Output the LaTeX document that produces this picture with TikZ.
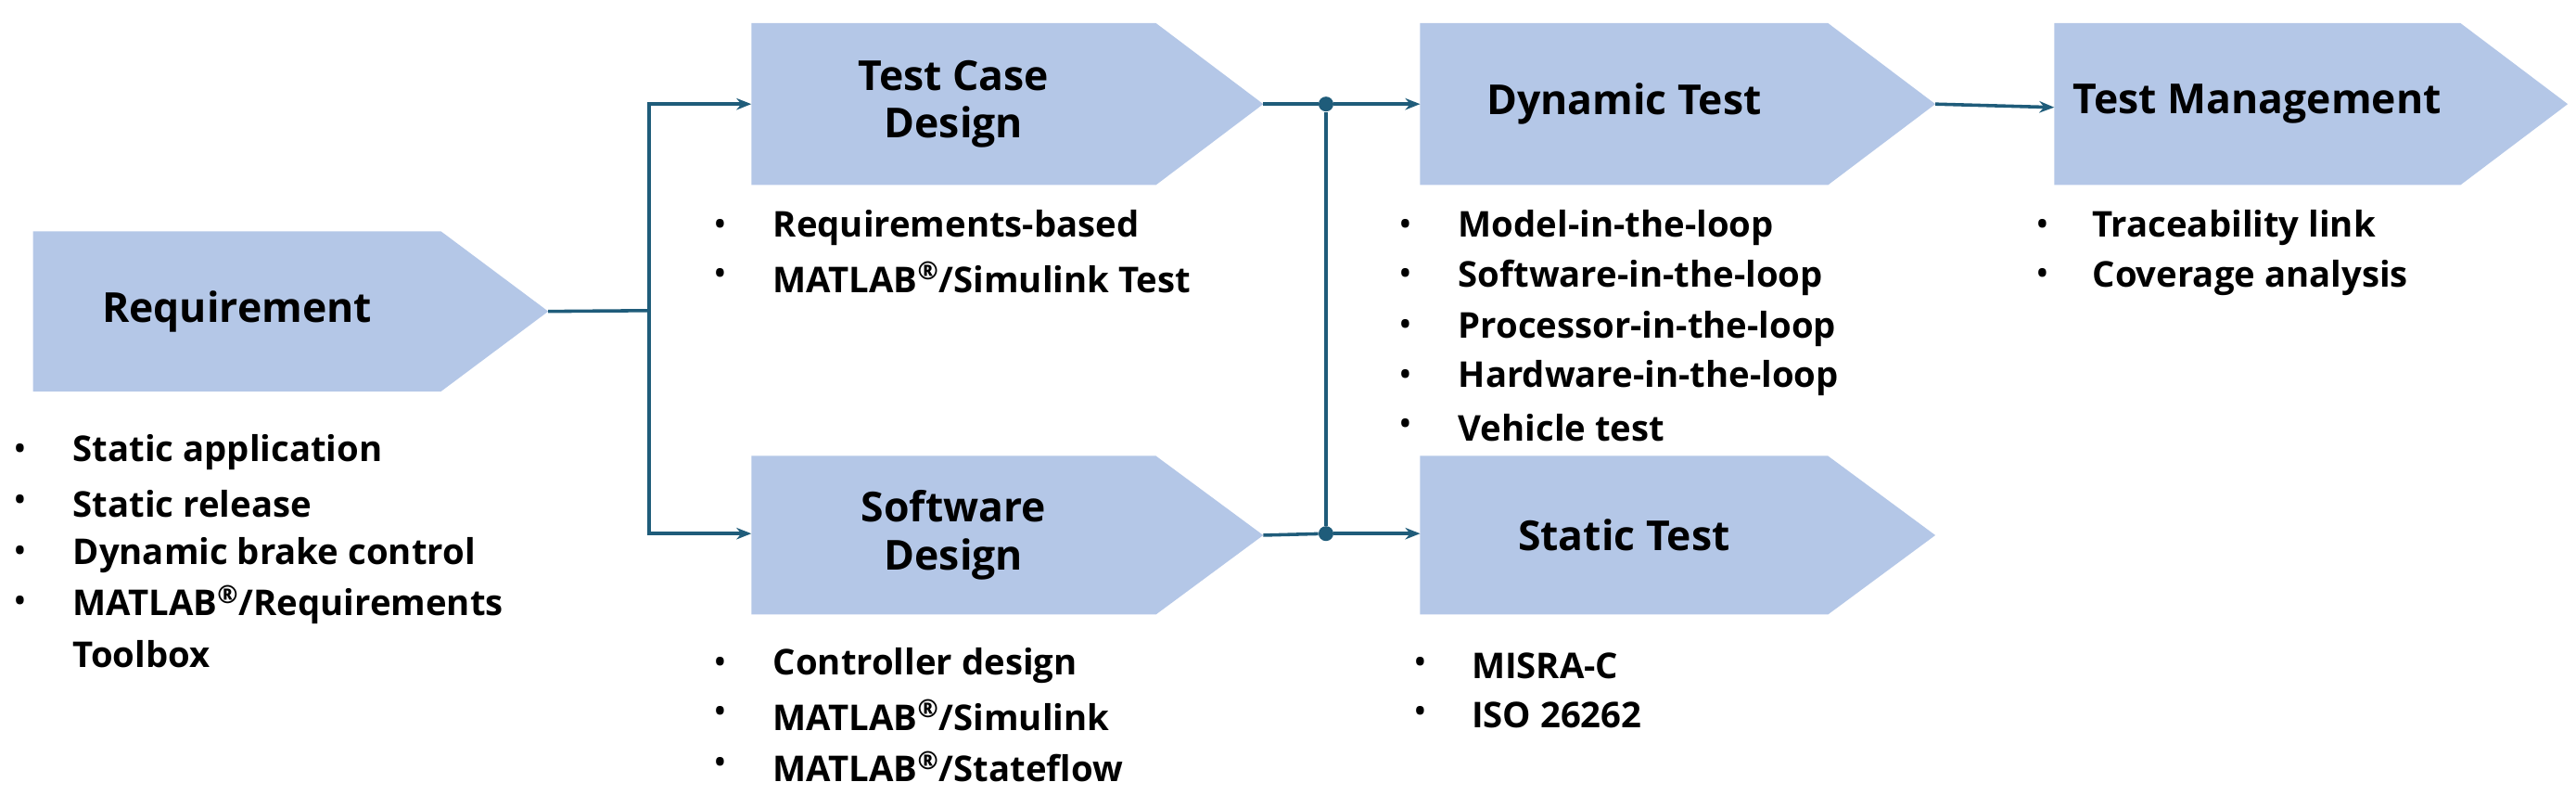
\documentclass[tikz,border=0pt]{standalone}
\usepackage{fontspec}
\setmainfont{Open Sans}
\usetikzlibrary{arrows.meta}
\begin{document}
\begin{tikzpicture}[x=1pt,y=-1pt,
  box/.style={fill=boxblue,draw=none},
  head/.style={font=\fontsize{25}{29}\selectfont\bfseries,align=center,text=black},
  item/.style={font=\fontsize{21.5}{30}\selectfont\bfseries,anchor=west,inner sep=0},
  bul/.style={font=\fontsize{22}{24}\selectfont,anchor=center,inner sep=0},
  con/.style={draw=linec,line width=2pt},
  arr/.style={con,-{Stealth[length=9pt,width=7pt]}},
  dot/.style={circle,fill=linec,inner sep=0,minimum size=9pt}]
\definecolor{boxblue}{HTML}{B4C7E7}
\definecolor{linec}{HTML}{1F5C7A}
\useasboundingbox (0,0) rectangle (1560,481);
\newcommand{\arrowbox}[6]{% name x0 y0 x1 y1 text
  \fill[box] (#2,#3) -- ({#4-65},#3) -- (#4,{(#3+#5)/2}) -- ({#4-65},#5) -- (#2,#5) -- cycle;
  \node[head] (#1) at ({(#2+#4-65)/2},{(#3+#5)/2}) {#6};
  \coordinate (#1tip) at (#4,{(#3+#5)/2});}
\newcommand{\blist}[4]{% bulletx textx y text
  \node[bul] at (#1,#3) {\textbullet};
  \node[item] at (#2,#3) {#4};}
\arrowbox{req}{20}{140}{332}{237}{Requirement}
\arrowbox{tcd}{455}{14}{765}{112}{Test Case\\Design}
\arrowbox{sd}{455}{276}{765}{372}{Software\\Design}
\arrowbox{dt}{860}{14}{1172}{112}{Dynamic Test}
\arrowbox{st}{860}{276}{1172}{372}{Static Test}
\arrowbox{tm}{1244}{14}{1555}{112}{Test Management}
\coordinate (tcdin) at (455,63);
\coordinate (sdin) at (455,323);
\coordinate (dtin) at (860,63);
\coordinate (stin) at (860,323);
\coordinate (tmin) at (1244,65);
\coordinate (split) at (393,188);
\node[dot] (j1) at (803,63) {};
\node[dot] (j2) at (803,323) {};
\draw[con] (reqtip) -- (split);
\draw[arr] (split) |- (tcdin);
\draw[arr] (split) |- (sdin);
\draw[con] (tcdtip) -- (j1);
\draw[con] (sdtip) -- (j2);
\draw[con] (j1) -- (j2);
\draw[arr] (j1) -- (dtin);
\draw[arr] (j2) -- (stin);
\draw[arr] (dttip) -- (tmin);
\blist{12}{44}{274}{Static application}
\blist{12}{44}{305}{Static release}
\blist{12}{44}{336}{Dynamic brake control}
\blist{12}{44}{366}{MATLAB\textsuperscript{\textregistered}/Requirements}
\node[item] at (44,396) {Toolbox};
\blist{436}{468}{138}{Requirements-based}
\blist{436}{468}{168}{MATLAB\textsuperscript{\textregistered}/Simulink Test}
\blist{436}{468}{403}{Controller design}
\blist{436}{468}{433}{MATLAB\textsuperscript{\textregistered}/Simulink}
\blist{436}{468}{464}{MATLAB\textsuperscript{\textregistered}/Stateflow}
\blist{851}{883}{138}{Model-in-the-loop}
\blist{851}{883}{168}{Software-in-the-loop}
\blist{851}{883}{199}{Processor-in-the-loop}
\blist{851}{883}{229}{Hardware-in-the-loop}
\blist{851}{883}{259}{Vehicle test}
\blist{860}{891}{403}{MISRA-C}
\blist{860}{891}{433}{ISO 26262}
\blist{1237}{1267}{138}{Traceability link}
\blist{1237}{1267}{168}{Coverage analysis}
\end{tikzpicture}
\end{document}
